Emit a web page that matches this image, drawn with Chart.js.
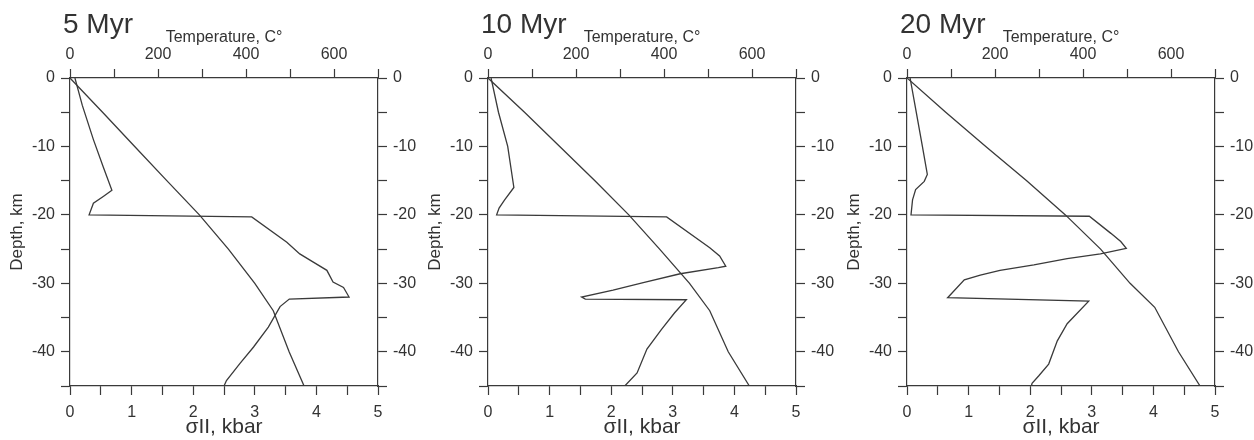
<!DOCTYPE html>
<html>
<head>
<meta charset="utf-8">
<script src="https://cdn.jsdelivr.net/npm/chart.js@4.4.1/dist/chart.umd.min.js"></script>
<style>
html, body { margin: 0; padding: 0; background: #fff; overflow: hidden; }
#wrap { position: relative; width: 1254px; height: 440px; }
canvas { position: absolute; top: 0; }
</style>
</head>
<body>
<div id="wrap">
<canvas id="p5" width="420" height="440" style="left:0px"></canvas>
<canvas id="p10" width="420" height="440" style="left:418px"></canvas>
<canvas id="p20" width="417" height="440" style="left:837px"></canvas>
</div>
<script>
// panel titles and axis labels
var panelTitles = ['5 Myr', '10 Myr', '20 Myr'];
var depthLabels = [0, -10, -20, -30, -40];
var stressLabels = [0, 1, 2, 3, 4, 5];
var tempLabels = [0, 200, 400, 600];

// 5 Myr: temperature profile (depth km, T C)
var tDepth5 = [0, -5, -10, -15, -20, -25, -30, -34, -40, -45];
var temp5 = [0, 74, 147, 220, 294, 360, 420, 462, 498, 532];
// 5 Myr: stress profile (depth km, sigma kbar)
var sDepth5 = [0, -4, -9, -13, -16.4, -17.3, -18.3, -20, -20.3, -24, -25.7, -26.9, -28.1, -29.8, -30.6, -32, -32.3, -33.4, -36.4, -39.3, -41.7, -44.2, -45];
var stress5 = [0.08, 0.2, 0.38, 0.54, 0.68, 0.54, 0.38, 0.31, 2.95, 3.52, 3.73, 3.95, 4.17, 4.27, 4.44, 4.53, 3.56, 3.41, 3.22, 2.98, 2.76, 2.54, 2.5];

// 10 Myr
var tDepth10 = [0, -5, -10, -15, -20, -25, -30, -34, -40, -45];
var temp10 = [0, 83, 163, 243, 320, 390, 458, 504, 546, 594];
var sDepth10 = [0, -5, -10, -16, -17.8, -19, -20, -20.3, -24.8, -26, -27.5, -27.7, -28.6, -29.9, -31, -32, -32.3, -32.4, -34.3, -36.7, -39.6, -43.1, -45];
var stress10 = [0.05, 0.17, 0.32, 0.42, 0.27, 0.18, 0.14, 2.9, 3.6, 3.76, 3.86, 3.74, 3.12, 2.52, 2.03, 1.52, 1.58, 3.22, 3.03, 2.82, 2.58, 2.42, 2.22];

// 20 Myr
var tDepth20 = [0, -5, -10, -15, -20, -25, -30, -33.5, -40, -45];
var temp20 = [0, 88, 179, 272, 360, 440, 507, 563, 617, 666];
var sDepth20 = [0, -5, -10, -14.1, -15.1, -16.3, -17.8, -20, -20.2, -22.7, -23.9, -24.9, -25.7, -26.4, -27.3, -28.1, -28.8, -29.5, -32.1, -32.6, -35.9, -38.4, -41.8, -43.5, -44.6, -45];
var stress20 = [0.05, 0.15, 0.25, 0.33, 0.28, 0.14, 0.09, 0.065, 2.96, 3.31, 3.47, 3.56, 3.14, 2.6, 2.06, 1.51, 1.19, 0.93, 0.66, 2.95, 2.6, 2.44, 2.3, 2.14, 2.03, 2.02];

Chart.defaults.font.family = '"Liberation Sans", Arial, sans-serif';
Chart.defaults.color = '#333';

var INK = '#3a3a3a';

var panelTitlePlugin = {
    id: 'panelTitle',
    afterDraw: function (chart, args, opts) {
        var ctx = chart.ctx;
        ctx.save();
        ctx.font = '28px "Liberation Sans", Arial, sans-serif';
        ctx.fillStyle = '#333';
        ctx.textBaseline = 'alphabetic';
        ctx.fillText(opts.text, chart.chartArea.left - 7, 33);
        ctx.restore();
    }
};

function toPoints(xs, ys) {
    return xs.map(function (v, i) { return {x: v, y: ys[i]}; });
}

function labelIf(list) {
    return function (value) {
        return list.indexOf(value) >= 0 ? String(value) : '';
    };
}

function axisGrid() {
    return {
        display: true,
        drawOnChartArea: false,
        drawTicks: true,
        tickLength: 9,
        tickColor: INK,
        tickWidth: 1.2
    };
}

function axisBorder() {
    return {display: true, color: INK, width: 1.2};
}

function makePanel(canvasId, title, tDepth, temp, sDepth, stress, rightW) {
    var el = document.getElementById(canvasId);
    return new Chart(el, {
        type: 'scatter',
        data: {
            datasets: [{
                label: 'Temperature',
                data: toPoints(temp, tDepth),
                xAxisID: 'x2',
                yAxisID: 'y',
                showLine: true,
                borderColor: INK,
                borderWidth: 1.3,
                pointRadius: 0,
                tension: 0
            }, {
                label: 'Stress',
                data: toPoints(stress, sDepth),
                xAxisID: 'x',
                yAxisID: 'y',
                showLine: true,
                borderColor: INK,
                borderWidth: 1.3,
                pointRadius: 0,
                tension: 0
            }]
        },
        options: {
            responsive: false,
            animation: false,
            layout: {padding: 0},
            plugins: {
                legend: {display: false},
                tooltip: {enabled: false},
                panelTitle: {text: title}
            },
            scales: {
                x: {
                    type: 'linear',
                    position: 'bottom',
                    min: 0,
                    max: 5,
                    ticks: {stepSize: 0.5, autoSkip: false, maxRotation: 0, padding: 8, font: {size: 16}, callback: labelIf(stressLabels)},
                    grid: axisGrid(),
                    border: axisBorder(),
                    title: {display: true, text: 'σII, kbar', font: {size: 21}, padding: {top: 0, bottom: 0}},
                    afterFit: function (s) { s.height = 54; }
                },
                x2: {
                    type: 'linear',
                    position: 'top',
                    min: 0,
                    max: 700,
                    ticks: {stepSize: 100, autoSkip: false, maxRotation: 0, padding: 5, font: {size: 16}, callback: labelIf(tempLabels)},
                    grid: axisGrid(),
                    border: axisBorder(),
                    title: {display: true, text: 'Temperature, C°', font: {size: 16}, padding: {top: 28, bottom: 0}},
                    afterFit: function (s) { s.height = 78; }
                },
                y: {
                    type: 'linear',
                    position: 'left',
                    min: -45,
                    max: 0,
                    ticks: {stepSize: 5, autoSkip: false, padding: 6, font: {size: 16}, callback: labelIf(depthLabels)},
                    grid: axisGrid(),
                    border: axisBorder(),
                    title: {display: true, text: 'Depth, km', font: {size: 17}, padding: {top: 7, bottom: 0}},
                    afterFit: function (s) { s.width = 70; }
                },
                y2: {
                    type: 'linear',
                    position: 'right',
                    min: -45,
                    max: 0,
                    ticks: {stepSize: 5, autoSkip: false, padding: 6, font: {size: 16}, callback: labelIf(depthLabels)},
                    grid: axisGrid(),
                    border: axisBorder(),
                    afterFit: function (s) { s.width = rightW; }
                }
            }
        },
        plugins: [panelTitlePlugin]
    });
}

makePanel('p5', panelTitles[0], tDepth5, temp5, sDepth5, stress5, 42);
makePanel('p10', panelTitles[1], tDepth10, temp10, sDepth10, stress10, 42);
makePanel('p20', panelTitles[2], tDepth20, temp20, sDepth20, stress20, 39);
</script>
</body>
</html>
